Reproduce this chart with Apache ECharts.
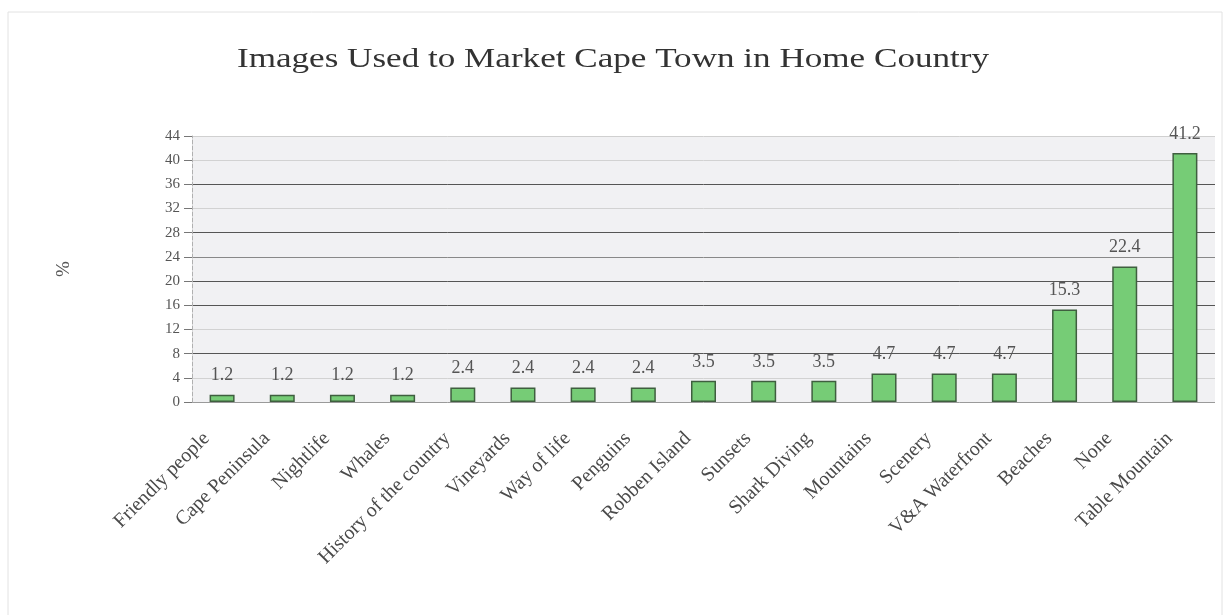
<!DOCTYPE html>
<html>
<head>
<meta charset="utf-8">
<script src="https://cdn.jsdelivr.net/npm/echarts@6/dist/echarts.min.js"></script>
<style>
  html, body { margin: 0; padding: 0; background: #ffffff; }
  #chart { width: 1231px; height: 615px; }
</style>
</head>
<body>
<div id="chart"></div>
<script>
// Images used to market Cape Town in the respondents' home country (%)
const categories = [
  'Friendly people', 'Cape Peninsula', 'Nightlife', 'Whales',
  'History of the country', 'Vineyards', 'Way of life', 'Penguins',
  'Robben Island', 'Sunsets', 'Shark Diving', 'Mountains', 'Scenery',
  'V&A Waterfront', 'Beaches', 'None', 'Table Mountain'
];
const percentages = [1.2, 1.2, 1.2, 1.2, 2.4, 2.4, 2.4, 2.4, 3.5, 3.5, 3.5, 4.7, 4.7, 4.7, 15.3, 22.4, 41.2];
const yTicks = [0, 4, 8, 12, 16, 20, 24, 28, 32, 36, 40, 44];
const chartTitle = 'Images Used to Market Cape Town in Home Country';

// gridline shades per tick, from 0 upward
const gridShades = ['#9a9a9a', '#d2d2d2', '#555555', '#d2d2d2', '#555555', '#555555',
                    '#888888', '#555555', '#d2d2d2', '#555555', '#d2d2d2', '#d0d0d0'];

const serif = '"Liberation Serif", "DejaVu Serif", serif';

const chart = echarts.init(document.getElementById('chart'));
chart.setOption({
  backgroundColor: '#ffffff',
  animation: false,
  graphic: [{
    type: 'rect',
    shape: { x: 8, y: 12, width: 1214, height: 640 },
    style: { fill: 'none', stroke: '#e2e2e2', lineWidth: 1 },
    silent: true
  }, {
    // wide serif title
    type: 'text',
    x: 613, y: 60,
    scaleX: 1.3,
    style: {
      text: chartTitle,
      fontFamily: serif, fontSize: 27, fill: '#333333',
      align: 'center', verticalAlign: 'middle'
    },
    silent: true
  }],
  grid: {
    left: 192, right: 16, top: 136, bottom: 213,
    show: true, backgroundColor: '#f1f1f3', borderColor: 'transparent'
  },
  xAxis: {
    type: 'category',
    data: categories,
    axisLine: { show: false },
    axisTick: { show: false },
    axisLabel: {
      rotate: 45, interval: 0, margin: 18,
      padding: [0, 22, 0, 0],
      fontFamily: serif, fontSize: 20, color: '#4a4a4a'
    }
  },
  yAxis: {
    type: 'value',
    min: yTicks[0],
    max: yTicks[yTicks.length - 1],
    interval: 4,
    name: '%',
    nameLocation: 'middle',
    nameRotate: 90,
    nameGap: 118,
    nameTextStyle: { fontFamily: serif, fontSize: 19, color: '#555555' },
    axisLine: { show: true, lineStyle: { color: '#b0b0b0', type: 'dashed' } },
    axisTick: { show: true, length: 8, lineStyle: { color: '#777777' } },
    axisLabel: { fontFamily: serif, fontSize: 15, color: '#555555', margin: 12 },
    splitLine: { show: true, lineStyle: { color: gridShades, width: 1 } }
  },
  series: [{
    type: 'bar',
    data: percentages,
    barWidth: 25,
    itemStyle: { color: '#76cc76', borderColor: '#3f5f3f', borderWidth: 1.5 },
    label: {
      show: true, position: 'top', distance: 10,
      fontFamily: serif, fontSize: 18, color: '#555555'
    }
  }]
});
</script>
</body>
</html>
